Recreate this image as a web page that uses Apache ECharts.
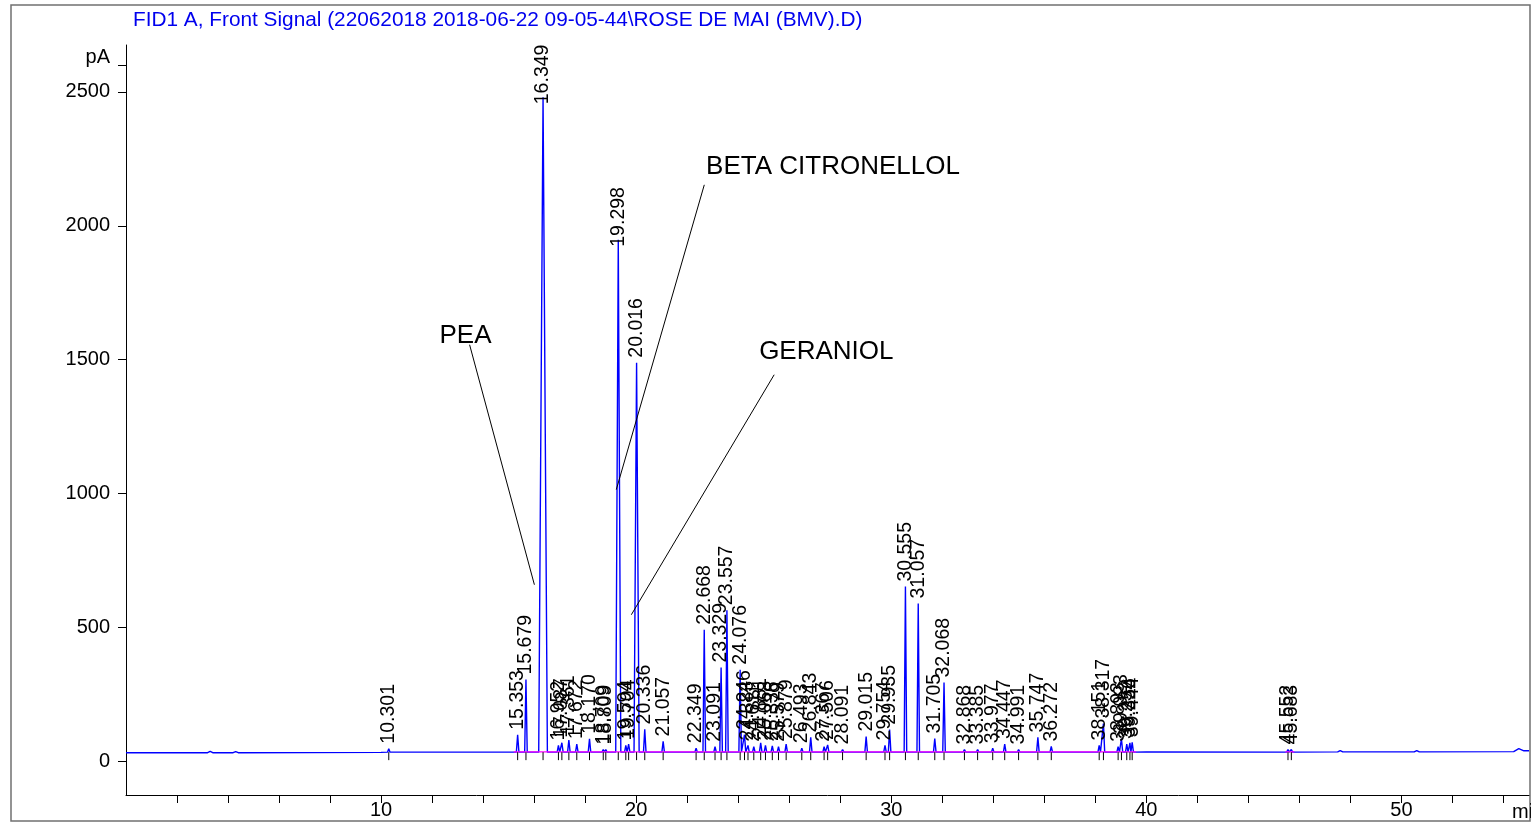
<!DOCTYPE html>
<html>
<head>
<meta charset="utf-8">
<script src="https://cdn.jsdelivr.net/npm/echarts@6/dist/echarts.min.js"></script>
<style>
html,body{margin:0;padding:0;background:#fff;}
#chart{width:1531px;height:823px;}
</style>
</head>
<body>
<div id="chart"></div>
<script>
// ---- data ----
const peakTimes = [10.301, 15.353, 15.679, 16.349, 16.952, 17.087, 17.361, 17.672, 18.170, 18.709, 18.809,
  19.298, 19.594, 19.704, 20.016, 20.336, 21.057, 22.349, 22.668, 23.091, 23.329, 23.557, 24.076, 24.246,
  24.383, 24.611, 24.881, 25.068, 25.336, 25.579, 25.879, 26.493, 26.843, 27.367, 27.506, 28.091,
  29.015, 29.754, 29.935, 30.555, 31.057, 31.705, 32.068, 32.868, 33.385, 33.977, 34.447, 34.991,
  35.747, 36.272, 38.151, 38.317, 38.893, 39.023, 39.232, 39.356, 39.444, 45.552, 45.683];
const peakHeights = [48, 100, 306, 2480, 60, 70, 80, 65, 85, 45, 45,
  1948, 60, 65, 1489, 120, 75, 50, 492, 55, 351, 565, 343, 100,
  60, 55, 70, 60, 58, 55, 65, 50, 90, 55, 62, 45,
  93, 60, 119, 653, 590, 86, 295, 45, 45, 50, 65, 45,
  90, 56, 60, 142, 55, 85, 65, 70, 72, 45, 45];
const baselineLevel = 35;
const baselineTimes = [0, 3.2, 3.3, 3.4, 4.2, 4.3, 4.4, 10, 15, 40, 47.5, 47.6, 47.7, 50.5, 50.6, 50.7, 54.4, 54.6, 54.8, 55];
const baselineValues = [33, 33, 38, 33, 33, 37, 33, 34, 35, 36, 36, 41, 36, 36, 41, 36, 37, 48, 40, 40];
const integrationBaselines = [[15.2, 39.6], [45.45, 45.8]];
const yTickValues = [0, 500, 1000, 1500, 2000, 2500, 2600];
const xTickValues = [2,4,6,8,10,12,14,16,18,20,22,24,26,28,30,32,34,36,38,40,42,44,46,48,50,52,54];
const xLabelValues = [10, 20, 30, 40, 50];
const annotationNames = ['PEA', 'BETA CITRONELLOL', 'GERANIOL'];
const annotationTextPos = [[12.29, 1589], [22.74, 2220], [24.82, 1530]];
const annotationLineFrom = [[13.47, 1556], [22.67, 2153], [25.41, 1444]];
const annotationLineTo = [[16.01, 660], [19.22, 1015], [19.81, 548]];
const titleText = 'FID1 A, Front Signal (22062018 2018-06-22 09-05-44\\ROSE DE MAI (BMV).D)';

// ---- build trace ----
const trace = [];
baselineTimes.forEach((t, i) => trace.push([t, baselineValues[i]]));
peakTimes.forEach((t, i) => {
  const h = peakHeights[i];
  const hw = h > 2000 ? 0.17 : (h > 1000 ? 0.1 : 0.05);
  trace.push([t - hw, baselineLevel]);
  trace.push([t, h]);
  trace.push([t + hw, baselineLevel]);
});
trace.sort((a, b) => a[0] - b[0]);

const FONT = '"Liberation Sans", Arial, sans-serif';
const chart = echarts.init(document.getElementById('chart'));

const series = [
  {
    type: 'line', data: trace, showSymbol: false, silent: true, z: 3,
    lineStyle: { color: '#0000ff', width: 1.4 }, animation: false
  }
];
integrationBaselines.forEach(seg => {
  series.push({
    type: 'line', data: [[seg[0], baselineLevel + 1], [seg[1], baselineLevel + 1]],
    showSymbol: false, silent: true, z: 4,
    lineStyle: { color: '#ff00ff', width: 1.2 }, animation: false
  });
});
// peak ticks under the baseline
series.push({
  type: 'custom', silent: true, z: 5, animation: false,
  data: peakTimes.map(t => [t, baselineLevel]),
  renderItem: (params, api) => {
    const p = api.coord([api.value(0), api.value(1)]);
    return { type: 'line', shape: { x1: p[0], y1: p[1], x2: p[0], y2: p[1] + 8 },
      style: { stroke: '#000', lineWidth: 1 } };
  }
});
// peak labels (rotated)
series.push({
  type: 'custom', silent: true, z: 6, animation: false,
  data: peakTimes.map((t, i) => [t, peakHeights[i]]),
  renderItem: (params, api) => {
    const p = api.coord([api.value(0), api.value(1)]);
    const off = api.value(1) > 1900 ? 7 : -5;
    return { type: 'text', x: p[0], y: p[1] + off, rotation: Math.PI / 2,
      style: { text: peakTimes[params.dataIndex].toFixed(3), x: 0, y: 0, align: 'left', verticalAlign: 'middle',
        fontSize: 19.5, fontFamily: FONT, fill: '#000' } };
  }
});
// annotation pointer lines
annotationNames.forEach((n, i) => {
  series.push({
    type: 'line', data: [annotationLineFrom[i], annotationLineTo[i]], showSymbol: false, silent: true, z: 7,
    lineStyle: { color: '#000', width: 1 }, animation: false
  });
});
// annotation texts
series.push({
  type: 'custom', silent: true, z: 8, animation: false,
  data: annotationTextPos,
  renderItem: (params, api) => {
    const p = api.coord([api.value(0), api.value(1)]);
    return { type: 'text', x: p[0], y: p[1],
      style: { text: annotationNames[params.dataIndex], x: 0, y: 0, align: 'left', verticalAlign: 'middle',
        fontSize: 26, fontFamily: FONT, fill: '#000' } };
  }
});

chart.setOption({
  animation: false,
  backgroundColor: '#fff',
  grid: { left: 126, right: 2, top: 45, bottom: 28 },
  xAxis: {
    type: 'value', min: 0, max: 55,
    axisLine: { onZero: false, lineStyle: { color: '#000', width: 1 } },
    axisTick: { show: true, customValues: xTickValues, length: 8, lineStyle: { color: '#000' } },
    axisLabel: { customValues: xLabelValues, fontSize: 20, fontFamily: FONT, color: '#000', margin: 5 },
    splitLine: { show: false }
  },
  yAxis: {
    type: 'value', min: -125, max: 2675,
    axisLine: { show: true, lineStyle: { color: '#000', width: 1 } },
    axisTick: { show: true, customValues: yTickValues, length: 8, lineStyle: { color: '#000' } },
    axisLabel: { customValues: yTickValues, fontSize: 20, fontFamily: FONT, color: '#000', margin: 16,
      formatter: v => (v === 2600 ? '{p|pA}' : String(v)),
      rich: { p: { fontSize: 20, fontFamily: FONT, color: '#000', padding: [0, 0, 16, 0] } } },
    splitLine: { show: false }
  },
  graphic: [
    { type: 'rect', shape: { x: 11, y: 5, width: 1519, height: 816 }, style: { fill: 'none', stroke: '#707070', lineWidth: 1.5 }, silent: true },
    { type: 'text', x: 133, y: 20, style: { text: titleText, fontSize: 20.8, fontFamily: FONT, fill: '#0000ee', verticalAlign: 'middle' } },
    { type: 'text', x: 1512, y: 812, style: { text: 'min', fontSize: 20, fontFamily: FONT, fill: '#000', verticalAlign: 'middle' } }
  ],
  series: series
});
</script>
</body>
</html>
